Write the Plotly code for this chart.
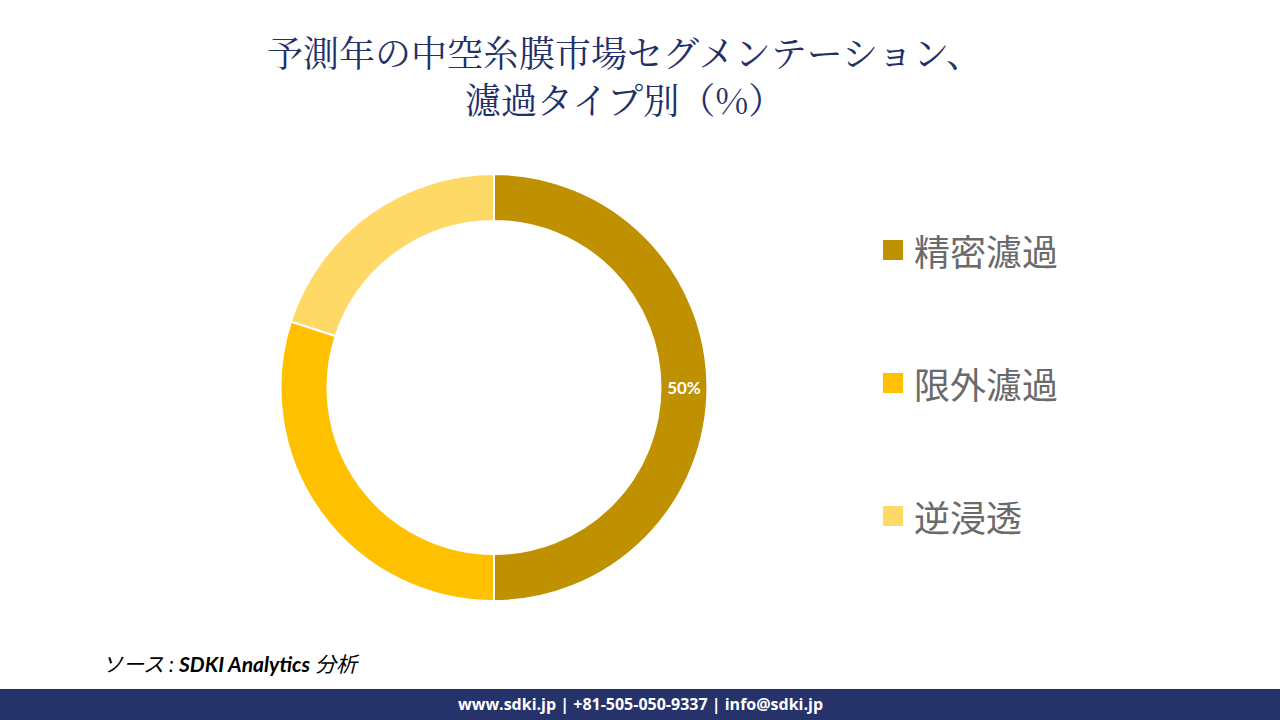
import plotly.graph_objects as go

labels = ["精密濾過", "限外濾過", "逆浸透"]
values = [50, 30, 20]
colors = ["#BF9000", "#FFC000", "#FFD966"]
slice_text = ["50%", "", ""]
title_lines = ["予測年の中空糸膜市場セグメンテーション、", "濾過タイプ別（%）"]
footer_text = "www.sdki.jp | +81-505-050-9337 | info@sdki.jp"

W, H = 1280, 720
cx, cy, r = 494, 387.5, 213.5

fig = go.Figure()
fig.add_trace(go.Pie(
    labels=labels, values=values, sort=False, direction="clockwise", rotation=0,
    hole=0.78,
    marker=dict(colors=colors, line=dict(color="white", width=2)),
    text=slice_text, textinfo="text", texttemplate="<b>%{text}</b>",
    textposition="inside", insidetextorientation="horizontal",
    textfont=dict(family="Lato, 'Open Sans', sans-serif", size=17, color="white"),
    showlegend=False, hoverinfo="label+percent",
    domain=dict(x=[(cx - r) / W, (cx + r) / W], y=[(H - cy - r) / H, (H - cy + r) / H]),
))

shapes = []
annotations = []
# custom legend
leg_y = [250, 383, 516]
for lab, col, y in zip(labels, colors, leg_y):
    shapes.append(dict(type="rect", xref="paper", yref="paper",
                       x0=883 / W, x1=903 / W, y0=(H - y - 10) / H, y1=(H - y + 10) / H,
                       fillcolor=col, line=dict(width=0)))
    annotations.append(dict(x=912 / W, y=(H - y) / H, xref="paper", yref="paper",
                            text=lab, showarrow=False, xanchor="left", yanchor="middle",
                            font=dict(family="Noto Sans CJK JP", size=36, color="#6A6A6A")))

# title (one text block, two lines)
annotations.append(dict(x=624 / W, y=(H - 75) / H, xref="paper", yref="paper",
                        text="<br>".join(title_lines),
                        showarrow=False, xanchor="center", yanchor="middle", align="center",
                        font=dict(family="'Noto Serif CJK JP', 'Noto Sans CJK JP', serif", size=36, color="#22306A")))

# source
annotations.append(dict(x=100 / W, y=(H - 663) / H, xref="paper", yref="paper",
                        text="<i>ソース : <b>SDKI Analytics</b> 分析</i>", showarrow=False,
                        xanchor="left", yanchor="middle",
                        font=dict(family="Lato, 'Noto Sans CJK JP', sans-serif", size=21, color="black")))

# footer bar
shapes.append(dict(type="rect", xref="paper", yref="paper", x0=0, x1=1, y0=0, y1=31 / H,
                   fillcolor="#26336B", line=dict(width=0), layer="below"))
annotations.append(dict(x=640 / W, y=(H - 704) / H, xref="paper", yref="paper",
                        text="<b>" + footer_text + "</b>", showarrow=False,
                        xanchor="center", yanchor="middle",
                        font=dict(family="'Open Sans', Lato, sans-serif", size=16, color="white")))

fig.update_layout(width=W, height=H, margin=dict(l=0, r=0, t=0, b=0),
                  paper_bgcolor="white", plot_bgcolor="white",
                  shapes=shapes, annotations=annotations, showlegend=False)

fig.write_html("out.html", config={"displayModeBar": False})
